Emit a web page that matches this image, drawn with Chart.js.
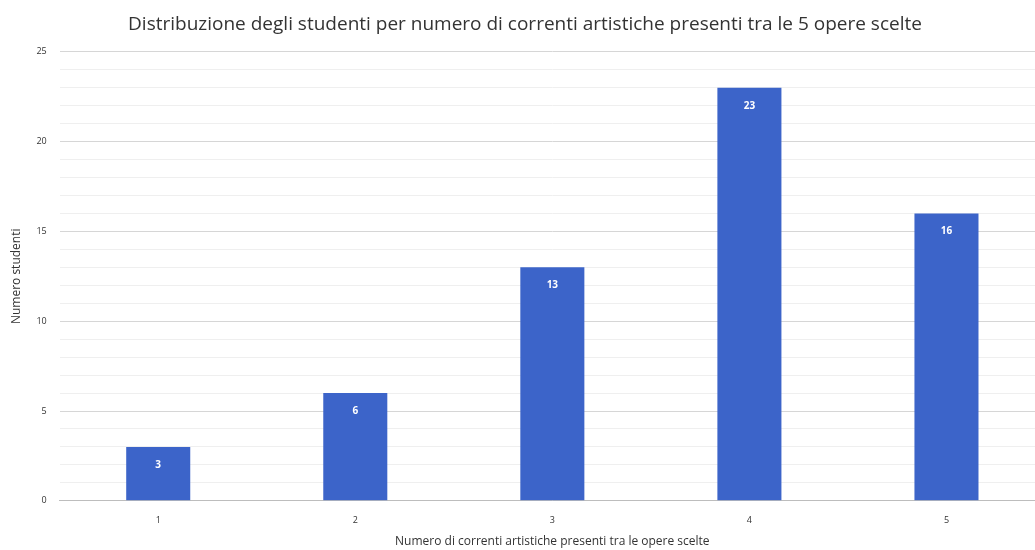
<!DOCTYPE html>
<html>
<head>
<meta charset="utf-8">
<script src="https://cdn.jsdelivr.net/npm/chart.js@4"></script>
<style>
  html, body { margin: 0; padding: 0; background: #fff; overflow: hidden; }
  #wrap { width: 1045px; height: 550px; position: relative; }
</style>
</head>
<body>
<div id="wrap"><canvas id="chart"></canvas></div>
<script>
// Dati
const categorie = ['1', '2', '3', '4', '5'];
const studenti = [3, 6, 13, 23, 16];
const titolo = 'Distribuzione degli studenti per numero di correnti artistiche presenti tra le 5 opere scelte';
const titoloX = 'Numero di correnti artistiche presenti tra le opere scelte';
const titoloY = 'Numero studenti';

// Etichette bianche dentro le barre
const etichetteBarre = {
  id: 'etichetteBarre',
  afterDatasetsDraw(chart) {
    const ctx = chart.ctx;
    const meta = chart.getDatasetMeta(0);
    ctx.save();
    ctx.fillStyle = '#ffffff';
    ctx.font = 'bold 10px "Open Sans"';
    ctx.textAlign = 'center';
    ctx.textBaseline = 'middle';
    meta.data.forEach((bar, i) => {
      ctx.fillText(String(studenti[i]), bar.x, bar.y + 18);
    });
    ctx.restore();
  }
};

new Chart(document.getElementById('chart'), {
  type: 'bar',
  data: {
    labels: categorie,
    datasets: [{
      data: studenti,
      backgroundColor: '#3c64c9',
      categoryPercentage: 1,
      barPercentage: 0.325
    }]
  },
  options: {
    responsive: true,
    maintainAspectRatio: false,
    animation: false,
    layout: { padding: { left: 5, right: 0, top: 0, bottom: 1 } },
    plugins: {
      legend: { display: false },
      tooltip: { enabled: false },
      title: {
        display: true,
        text: titolo,
        color: '#333',
        font: { family: 'Open Sans', size: 19, weight: 'normal' },
        padding: { top: 13, bottom: 16 }
      }
    },
    scales: {
      x: {
        grid: { display: false },
        border: { color: '#bdbdbd' },
        ticks: { color: '#333', font: { family: 'Open Sans', size: 9 }, padding: 6 },
        title: { display: true, text: titoloX, color: '#333', font: { family: 'Open Sans', size: 12 }, padding: { top: 3, bottom: 0 } }
      },
      y: {
        min: 0,
        max: 25,
        border: { display: false },
        ticks: {
          stepSize: 1,
          autoSkip: false,
          color: '#333',
          font: { family: 'Open Sans', size: 9 },
          padding: 13,
          callback: v => (v % 5 === 0 ? v : '')
        },
        grid: {
          drawTicks: false,
          color: c => (c.tick.value % 5 === 0 ? '#d6d6d6' : '#efefef')
        },
        title: { display: true, text: titoloY, color: '#333', font: { family: 'Open Sans', size: 12 }, padding: { bottom: 0 } }
      }
    }
  },
  plugins: [etichetteBarre]
});
</script>
</body>
</html>
